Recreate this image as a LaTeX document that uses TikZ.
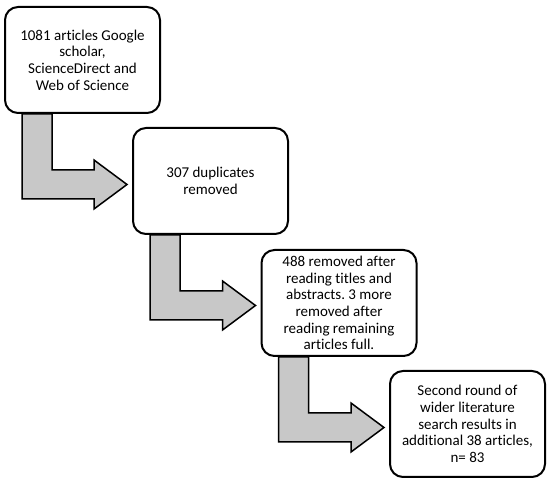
\documentclass[tikz,border=0pt]{standalone}
\usepackage{fontspec}
\setmainfont{Carlito}[RawFeature={-liga}]
\usetikzlibrary{calc,backgrounds}
\definecolor{arrowgray}{RGB}{200,200,200}
\tikzset{
  stagebox/.style={draw=black, line width=2pt, rounded corners=13pt, fill=white,
    minimum width=155pt, minimum height=106pt, align=center,
    font=\fontsize{15pt}{16.6pt}\selectfont, inner sep=2pt},
  bentarrow/.style={draw=black, line width=1.5pt, fill=arrowgray, line join=miter}
}
\newcommand{\bentarrow}[2]{%
  \draw[bentarrow]
    ($(#1.south west)+(18,0)$) -- ($(#1.south west)+(48,0)$)
    -- ($(#1.south west)+(48,56)$)
    -- ($(#2.west |- #1.south)+(-38,56)$)
    -- ($(#2.west |- #1.south)+(-38,46)$)
    -- ($(#2.west |- #1.south)+(-5,70.5)$)
    -- ($(#2.west |- #1.south)+(-38,95)$)
    -- ($(#2.west |- #1.south)+(-38,85)$)
    -- ($(#1.south west)+(18,85)$) -- cycle;}
\begin{document}
\frenchspacing
\begin{tikzpicture}[x=1pt,y=-1pt]
\useasboundingbox (0,0) rectangle (550,484);
\node[stagebox] (b1) at (82.5,60) {1081 articles Google\\scholar,\\ScienceDirect and\\Web of Science};
\node[stagebox] (b2) at (210.5,181) {307 duplicates\\removed};
\node[stagebox] (b3) at (339,303) {488 removed after\\reading titles and\\abstracts. 3 more\\removed after\\reading remaining\\articles full.};
\node[stagebox] (b4) at (467.5,424) {Second round of\\wider literature\\search results in\\additional 38 articles,\\n= 83};
\begin{scope}[on background layer]
\bentarrow{b1}{b2}
\bentarrow{b2}{b3}
\bentarrow{b3}{b4}
\end{scope}
\end{tikzpicture}
\end{document}
